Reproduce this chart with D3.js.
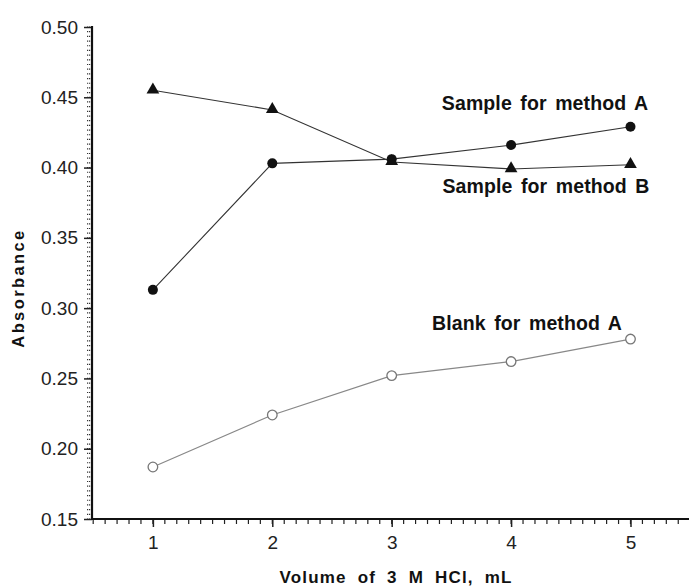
<!DOCTYPE html>
<html><head><meta charset="utf-8">
<script src="https://cdn.jsdelivr.net/npm/d3@7"></script>
<style>body{margin:0;background:#fff}svg{display:block}text{font-family:"Liberation Sans",Arial,sans-serif}</style>
</head><body><svg id="c" width="689" height="587"></svg>
<script>
const volumes = [1, 2, 3, 4, 5];
const sampleA = [0.313, 0.403, 0.406, 0.416, 0.429];
const sampleB = [0.455, 0.441, 0.404, 0.399, 0.402];
const blankA  = [0.187, 0.224, 0.252, 0.262, 0.278];
const yTicks = [0.15, 0.20, 0.25, 0.30, 0.35, 0.40, 0.45, 0.50];
const xTicks = [1, 2, 3, 4, 5];
const labels = ["Sample for method A", "Sample for method B", "Blank for method A"];

const svg = d3.select("#c");
const x = d3.scaleLinear().domain([0.49, 5.49]).range([92, 689]);
const y = d3.scaleLinear().domain([0.15, 0.50]).range([519, 27]);

// minor ticks
const yMinor = d3.range(0, 106).map(i => 0.15 + i * (0.05/15)).filter(v => v <= 0.5001);
svg.append("g").selectAll("line").data(yMinor).join("line")
  .attr("x1", 87).attr("x2", 92).attr("y1", d => y(d)).attr("y2", d => y(d))
  .attr("stroke", "#333").attr("stroke-width", 1.2).attr("stroke-dasharray", "1.2,0.8");
const xMinor = d3.range(5, 55).map(i => i / 10);
svg.append("g").selectAll("line").data(xMinor).join("line")
  .attr("x1", d => x(d)).attr("x2", d => x(d)).attr("y1", 519).attr("y2", 524)
  .attr("stroke", "#222").attr("stroke-width", 1.2);

// axes
const yAxis = svg.append("g").attr("transform", "translate(92,0)")
  .call(d3.axisLeft(y).tickValues(yTicks).tickFormat(d3.format(".2f")).tickSize(8).tickPadding(6));
const xAxis = svg.append("g").attr("transform", "translate(0,519)")
  .call(d3.axisBottom(x).tickValues(xTicks).tickFormat(d3.format("d")).tickSize(8).tickPadding(9));
[yAxis, xAxis].forEach(g => {
  g.select(".domain").remove();
  g.selectAll(".tick line").attr("stroke", "#222").attr("stroke-width", 1.5);
  g.selectAll("text").attr("font-size", 19).attr("fill", "#222");
});
svg.append("line").attr("x1", 92).attr("x2", 92).attr("y1", 26).attr("y2", 520)
  .attr("stroke", "#111").attr("stroke-width", 2.2);
svg.append("line").attr("x1", 91).attr("x2", 689).attr("y1", 519).attr("y2", 519)
  .attr("stroke", "#111").attr("stroke-width", 2.2);

const line = d3.line().x((d, i) => x(volumes[i])).y(d => y(d));
svg.append("path").datum(blankA).attr("d", line).attr("fill", "none").attr("stroke", "#888").attr("stroke-width", 1.2);
svg.append("path").datum(sampleA).attr("d", line).attr("fill", "none").attr("stroke", "#333").attr("stroke-width", 1.1);
svg.append("path").datum(sampleB).attr("d", line).attr("fill", "none").attr("stroke", "#333").attr("stroke-width", 1.1);

svg.append("g").selectAll("circle").data(blankA).join("circle")
  .attr("cx", (d, i) => x(volumes[i])).attr("cy", d => y(d)).attr("r", 4.8)
  .attr("fill", "#fff").attr("stroke", "#777").attr("stroke-width", 1.3);
svg.append("g").selectAll("circle").data(sampleA).join("circle")
  .attr("cx", (d, i) => x(volumes[i])).attr("cy", d => y(d)).attr("r", 5)
  .attr("fill", "#111");
const tri = d3.symbol().type(d3.symbolTriangle).size(70);
svg.append("g").selectAll("path").data(sampleB).join("path")
  .attr("d", tri).attr("transform", (d, i) => `translate(${x(volumes[i])},${y(d) - 0.5})`)
  .attr("fill", "#111");

const lab = (t, cx, by) => svg.append("text").attr("x", cx).attr("y", by).attr("text-anchor", "middle")
  .attr("font-size", 19.5).attr("font-weight", "bold").attr("fill", "#111")
  .attr("letter-spacing", 0.1).attr("word-spacing", 3).text(t);
lab(labels[0], 545, 110);
lab(labels[1], 546, 193);
lab(labels[2], 527, 330);

svg.append("text").attr("x", 396).attr("y", 583).attr("text-anchor", "middle")
  .attr("font-size", 17).attr("font-weight", "bold").attr("fill", "#111")
  .attr("letter-spacing", 1.2).attr("word-spacing", 5).text("Volume of 3 M HCl, mL");
svg.append("text").attr("transform", "translate(24,288) rotate(-90)").attr("text-anchor", "middle")
  .attr("font-size", 16.5).attr("font-weight", "bold").attr("fill", "#111")
  .attr("letter-spacing", 2.4).text("Absorbance");
</script></body></html>
